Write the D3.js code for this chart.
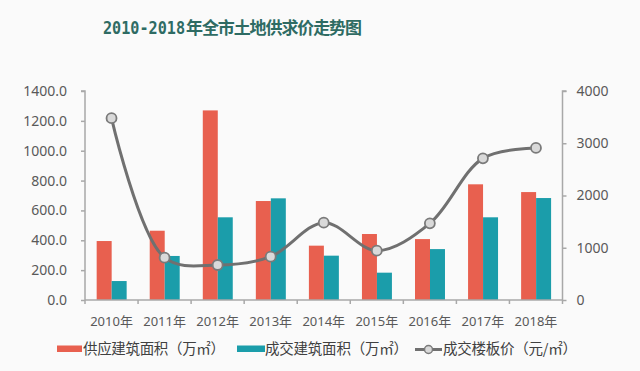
<!DOCTYPE html>
<html><head><meta charset="utf-8">
<script src="https://cdn.jsdelivr.net/npm/d3@7/dist/d3.min.js"></script>
<style>
html,body{margin:0;padding:0;background:#fafafa;}
svg{display:block;}
</style></head>
<body>
<svg id="c" width="640" height="371"></svg>
<script>
const categories = ["2010年","2011年","2012年","2013年","2014年","2015年","2016年","2017年","2018年"];
const supplyArea = [395, 464, 1270, 663, 364, 442, 408, 775, 723];
const dealArea = [127, 295, 554, 681, 297, 183, 341, 554, 683];
const dealPrice = [3480, 810, 670, 830, 1480, 944, 1467, 2711, 2910];
const leftTicks = [0, 200, 400, 600, 800, 1000, 1200, 1400];
const rightTicks = [0, 1000, 2000, 3000, 4000];
const seriesNames = ["供应建筑面积（万㎡）", "成交建筑面积（万㎡）", "成交楼板价（元/㎡）"];
const titleNum = "2010-2018";
const titleCjk = "年全市土地供求价走势图";

const svg = d3.select("#c");
const L = 85, R = 562.5, T = 91, B = 300;
const red = "#E8604F", teal = "#1B9DAA", lineC = "#707070", axisC = "#a8a8a8", txtC = "#595959";

const x = d3.scaleBand().domain(categories).range([L, R]).padding(0);
const bw = x.bandwidth();
const x1 = d3.scaleBand().domain(["s","d"]).range([bw*0.22, bw*0.785]).padding(0);
const yL = d3.scaleLinear().domain([0, 1400]).range([B, T]);
const yR = d3.scaleLinear().domain([0, 4000]).range([B, T]);

// title
const title = svg.append("text").attr("y", 34).attr("fill", "#2E6B63")
  .style("font-family", "'DejaVu Sans Mono','Noto Sans CJK SC',monospace").style("font-weight", "bold").style("font-size", "17px");
title.append("tspan").attr("x", 103).attr("textLength", 82).attr("lengthAdjust","spacingAndGlyphs").text(titleNum);
title.append("tspan").attr("x", 186).attr("textLength", 176).attr("lengthAdjust","spacing")
  .style("font-family", "'Noto Sans CJK SC'").text(titleCjk);

// bars
const g = svg.append("g");
categories.forEach((c, i) => {
  g.append("rect").attr("x", x(c) + x1("s")).attr("width", x1.bandwidth())
    .attr("y", yL(supplyArea[i])).attr("height", B - yL(supplyArea[i])).attr("fill", red);
  g.append("rect").attr("x", x(c) + x1("d")).attr("width", x1.bandwidth())
    .attr("y", yL(dealArea[i])).attr("height", B - yL(dealArea[i])).attr("fill", teal);
});

// axes
const axL = svg.append("g").attr("transform", `translate(${L},0)`)
  .call(d3.axisLeft(yL).tickValues(leftTicks).tickFormat(d3.format(".1f")).tickSize(4).tickPadding(14));
const axR = svg.append("g").attr("transform", `translate(${R},0)`)
  .call(d3.axisRight(yR).tickValues(rightTicks).tickFormat(d3.format("d")).tickSize(4).tickPadding(10));
const axB = svg.append("g").attr("transform", `translate(0,${B})`)
  .call(d3.axisBottom(x).tickSize(0).tickPadding(17));
// boundary ticks on bottom axis
const bounds = categories.map(c => x(c)).concat([R]);
svg.append("g").selectAll("line").data(bounds).join("line")
  .attr("x1", d => d).attr("x2", d => d).attr("y1", B).attr("y2", B + 4)
  .attr("stroke", axisC).attr("stroke-width", 1.5);

[axL, axR, axB].forEach(a => {
  a.select(".domain").attr("stroke", axisC).attr("stroke-width", 1.5);
  a.selectAll(".tick line").attr("stroke", axisC).attr("stroke-width", 1.5);
  a.selectAll("text").attr("fill", txtC).style("font-family", "'Noto Sans','Noto Sans CJK SC',sans-serif");
});
axL.selectAll("text").style("font-size", "14px");
axR.selectAll("text").style("font-size", "14px");
axB.selectAll("text").style("font-size", "13px").style("font-family", "'Noto Sans','Noto Sans CJK SC',sans-serif");
axL.select(".domain").attr("d", `M-4,${T}H0V${B}`);
axR.select(".domain").attr("d", `M4,${T}H0V${B}`);
axB.select(".domain").attr("d", `M${L},0H${R}`);

// line
const cx = c => x(c) + bw / 2;
const line = d3.line().x((d, i) => cx(categories[i])).y(d => yR(d)).curve(d3.curveCatmullRom.alpha(0.5));
svg.append("path").attr("d", line(dealPrice)).attr("fill", "none").attr("stroke", lineC).attr("stroke-width", 3);
svg.append("g").selectAll("circle").data(dealPrice).join("circle")
  .attr("cx", (d, i) => cx(categories[i])).attr("cy", d => yR(d)).attr("r", 5)
  .attr("fill", "#d9d9d9").attr("stroke", "#7a7a7a").attr("stroke-width", 1.8);

// legend
const lg = svg.append("g").style("font-family", "'Noto Sans CJK SC',sans-serif").style("font-size", "14.5px").attr("fill", "#404040");
lg.append("rect").attr("x", 57).attr("y", 345.5).attr("width", 25).attr("height", 6.5).attr("fill", red);
lg.append("text").attr("x", 83).attr("y", 354).attr("textLength", 142).attr("lengthAdjust","spacing").text(seriesNames[0]);
lg.append("rect").attr("x", 237).attr("y", 345.5).attr("width", 28).attr("height", 6.5).attr("fill", teal);
lg.append("text").attr("x", 265).attr("y", 354).attr("textLength", 143).attr("lengthAdjust","spacing").text(seriesNames[1]);
lg.append("line").attr("x1", 415).attr("x2", 442).attr("y1", 349.5).attr("y2", 349.5).attr("stroke", lineC).attr("stroke-width", 3);
lg.append("circle").attr("cx", 428.5).attr("cy", 349.5).attr("r", 4).attr("fill", "#d9d9d9").attr("stroke", "#7a7a7a").attr("stroke-width", 1.5);
lg.append("text").attr("x", 443).attr("y", 354).attr("textLength", 134).attr("lengthAdjust","spacing").text(seriesNames[2]);
</script>
</body></html>
